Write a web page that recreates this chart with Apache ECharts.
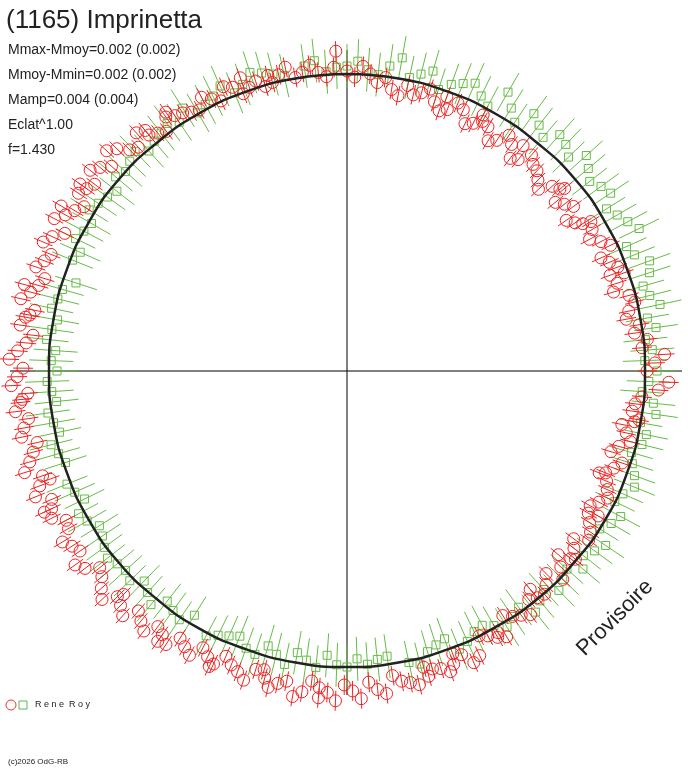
<!DOCTYPE html>
<html>
<head>
<meta charset="utf-8">
<script src="https://cdn.jsdelivr.net/npm/echarts@6/dist/echarts.min.js"></script>
<style>html,body{margin:0;padding:0;background:#fff}#main{width:688px;height:768px}</style>
</head>
<body>
<div id="main"></div>
<script>
var myChart = echarts.init(document.getElementById('main'));

// [angle (deg, clockwise from top), radius (px)]
var rouge = [
    [0,300],[3,305],[6,290],[9,285],[12,292],[15,288],[18,283],[21,280],[24,286],[27,278],[30,282],[33,275],
    [36,280],[39,272],[42,278],[45,270],[48,276],[51,268],[54,280],[57,272],[60,283],[63,285],[66,278],[69,290],
    [72,284],[75,292],[78,288],[81,296],[84,302],[87,318],[90,300],[92,322],[95,296],[98,288],[101,280],[104,292],
    [107,276],[110,284],[113,282],[116,290],[119,278],[122,286],[125,295],[128,288],[131,280],[134,300],[137,292],
    [140,285],[143,305],[146,296],[149,310],[152,300],[155,314],[158,306],[161,318],[164,310],[167,322],[170,315],
    [173,325],[176,312],[179,320],[182,330],[185,318],[188,324],[191,316],[194,326],[197,312],[200,320],[203,310],
    [206,318],[209,325],[212,315],[215,322],[218,330],[221,318],[224,326],[227,335],[230,320],[233,328],[236,322],
    [239,332],[242,318],[245,326],[248,336],[251,322],[254,330],[257,318],[260,328],[263,334],[266,320],[269,330],
    [272,338],[275,322],[278,330],[281,318],[284,326],[287,316],[290,322],[293,330],[296,314],[299,322],[302,310],
    [305,318],[308,326],[311,312],[314,320],[317,306],[320,314],[323,300],[326,308],[329,302],[332,310],[335,298],
    [338,306],[341,300],[344,296],[347,304],[350,298],[353,308],[356,295],[358,320],
    [20,292],[38,286],[58,278],[100,292],[112,272],[130,292],[150,302],[165,316],[185,328],[205,326],[225,316],
    [245,334],[265,326],[285,334],[305,326],[325,316],[345,306],[120,290],[140,296],[160,312],[195,318],[215,330],
    [250,316],[280,322],[300,330],[320,308],[340,312],[70,280],[50,284],[28,290],
    [1.5,294],[4.5,298],[7.5,296],[10.5,280],[13.5,284],[16.5,294],[19.5,276],[22.5,290],[25.5,274],[28.5,284],
    [31.5,270],[34.5,286],[37.5,268],[40.5,284],[43.5,276],[46.5,264],[49.5,280],[52.5,274],[55.5,266],[58.5,286],
    [61.5,276],[64.5,292],[67.5,284],[70.5,294],[73.5,278],[76.5,296],[79.5,284],[82.5,290],[85.5,296],[88.5,308],
    [93.5,312],[96.5,290],[99.5,296],[102.5,286],[105.5,282],[108.5,290],[111.5,278],[114.5,286],[117.5,284],
    [120.5,280],[123.5,292],[126.5,282],[129.5,296],[132.5,290],[135.5,284],[138.5,298],[141.5,292],[144.5,300],
    [147.5,290],[150.5,306],[153.5,296],[156.5,318],[159.5,302],[162.5,312],[165.5,306],[168.5,318],[171.5,308],
    [174.5,320],[177.5,328],[180.5,314],[183.5,322],[186.5,312],[189.5,330],[192.5,320],[195.5,310],[198.5,326],
    [201.5,316],[204.5,322],[207.5,312],[210.5,320],[213.5,328],[216.5,318],[219.5,324],[222.5,332],[225.5,322],
    [228.5,328],[231.5,316],[234.5,334],[237.5,326],[240.5,320],[243.5,330],[246.5,322],[249.5,328],[252.5,338],
    [255.5,324],[258.5,332],[261.5,322],[264.5,328],[267.5,336],[270.5,324],[273.5,330],[276.5,316],[279.5,326],
    [282.5,334],[285.5,320],[288.5,328],[291.5,318],[294.5,324],[297.5,330],[300.5,316],[303.5,322],[306.5,314],
    [309.5,320],[312.5,326],[315.5,310],[318.5,318],[321.5,304],[324.5,312],[327.5,306],[330.5,300],[333.5,304],
    [336.5,310],[339.5,296],[342.5,304],[345.5,298],[348.5,310],[351.5,302],[354.5,300],[357.5,304]
];
var vert = [
    [0,305],[4,302],[8,308],[12,300],[16,312],[20,305],[24,315],[28,300],[32,310],[36,318],[40,305],[44,315],
    [48,322],[52,308],[56,318],[60,312],[64,325],[68,310],[72,318],[76,312],[80,305],[84,300],[88,298],[92,302],
    [96,308],[100,298],[104,304],[108,300],[112,310],[116,298],[120,305],[124,312],[128,300],[132,296],[136,305],
    [140,300],[144,292],[148,302],[152,288],[156,296],[160,285],[164,292],[168,298],[172,288],[176,294],[180,296],
    [184,285],[188,292],[192,300],[196,286],[200,295],[204,290],[208,300],[212,288],[216,296],[220,305],[224,292],
    [228,298],[232,304],[236,295],[240,300],[244,292],[248,302],[252,296],[256,305],[260,298],[264,292],[268,300],
    [272,296],[276,302],[280,294],[284,298],[288,285],[292,296],[296,302],[300,295],[304,300],[308,292],[312,298],
    [316,305],[320,300],[324,306],[328,310],[332,302],[336,312],[340,305],[344,310],[348,302],[352,308],[356,300],
    [10,318],[30,322],[50,315],[70,322],[90,310],[110,306],[130,308],[150,294],[190,286],[230,300],[270,290],[310,302],[330,298],
    [2,310],[6,298],[14,306],[18,296],[22,310],[26,306],[34,300],[38,312],[42,318],[46,308],[54,314],[58,306],
    [62,318],[66,306],[74,308],[78,320],[82,312],[86,306],[94,296],[98,312],[102,306],[106,296],[114,302],[118,310],
    [122,298],[126,306],[134,300],[138,294],[142,306],[146,296],[154,290],[158,300],[162,288],[166,302],[174,290],
    [178,288],[182,294],[186,298],[194,292],[198,298],[202,286],[206,294],[214,300],[218,292],[222,298],[226,302],
    [234,300],[238,292],[242,304],[246,298],[254,300],[258,294],[262,302],[266,296],[274,292],[278,298],[282,302],
    [286,296],[294,292],[298,298],[302,304],[306,296],[314,302],[318,296],[322,302],[326,300],[334,306],[338,300],
    [342,314],[346,306],[354,312],[358,304]
];
// courbe moyenne
var courbe = [
    [0,297],[10,297],[20,297],[30,297],[40,297],[50,298],[60,298],[70,298],[80,298],[90,298],[100,298],[110,298],
    [120,298],[130,297],[140,297],[150,296],[160,296],[170,296],[180,296],[190,296],[200,296],[210,297],[220,297],
    [230,298],[240,298],[250,298],[260,298],[270,298],[280,298],[290,298],[300,298],[310,298],[320,297],[330,297],
    [340,297],[350,297],[360,297]
];

function mkSerie(data, couleur, err, forme) {
    return {
        type: 'custom',
        coordinateSystem: 'polar',
        data: data.map(function (d) { return [d[1], d[0]]; }),
        renderItem: function (params, api) {
            var r = api.value(0), a = api.value(1);
            var p = api.coord([r, a]);
            var p1 = api.coord([r - err, a]);
            var p2 = api.coord([r + err, a]);
            var shape = forme === 'c'
                ? { type: 'circle', shape: { cx: p[0], cy: p[1], r: 6 }, style: { fill: 'none', stroke: couleur, lineWidth: 1 } }
                : { type: 'rect', shape: { x: p[0] - 4, y: p[1] - 4, width: 8, height: 8 }, style: { fill: 'none', stroke: couleur, lineWidth: 1 } };
            return {
                type: 'group',
                children: [
                    { type: 'line', shape: { x1: p1[0], y1: p1[1], x2: p2[0], y2: p2[1] }, style: { stroke: couleur, lineWidth: 1 } },
                    shape
                ]
            };
        },
        silent: true,
        animation: false
    };
}

var option = {
    animation: false,
    polar: { center: [347, 371], radius: 340 },
    angleAxis: { type: 'value', min: 0, max: 360, startAngle: 90, clockwise: true, show: false },
    radiusAxis: { type: 'value', min: 0, max: 340, show: false },
    graphic: [
        { type: 'line', shape: { x1: 10, y1: 371, x2: 682, y2: 371 }, style: { stroke: '#000', lineWidth: 1 }, z: 0 },
        { type: 'line', shape: { x1: 347, y1: 50, x2: 347, y2: 695 }, style: { stroke: '#000', lineWidth: 1 }, z: 0 },
        { type: 'text', left: 6, top: 8, style: { text: '(1165) Imprinetta', font: '26px Arial, Liberation Sans', fill: '#222' } },
        { type: 'text', left: 8, top: 43, style: { text: 'Mmax-Mmoy=0.002 (0.002)', font: '14px Arial, Liberation Sans', fill: '#222' } },
        { type: 'text', left: 8, top: 68, style: { text: 'Mmoy-Mmin=0.002 (0.002)', font: '14px Arial, Liberation Sans', fill: '#222' } },
        { type: 'text', left: 8, top: 93, style: { text: 'Mamp=0.004 (0.004)', font: '14px Arial, Liberation Sans', fill: '#222' } },
        { type: 'text', left: 8, top: 118, style: { text: 'Eclat^1.00', font: '14px Arial, Liberation Sans', fill: '#222' } },
        { type: 'text', left: 8, top: 143, style: { text: 'f=1.430', font: '14px Arial, Liberation Sans', fill: '#222' } },
        { type: 'text', x: 615, y: 618, rotation: Math.PI / 4, style: { text: 'Provisoire', font: '22px Arial, Liberation Sans', fill: '#222', align: 'center', verticalAlign: 'middle' } },
        { type: 'circle', shape: { cx: 11, cy: 705, r: 5 }, style: { fill: 'none', stroke: '#e33', lineWidth: 1 } },
        { type: 'rect', shape: { x: 19, y: 701, width: 8, height: 8 }, style: { fill: 'none', stroke: '#5b5', lineWidth: 1 } },
        { type: 'text', left: 35, top: 700, style: { text: 'R e n e  R o y', font: '9px Arial, Liberation Sans', fill: '#222' } },
        { type: 'text', left: 8, top: 758, style: { text: '(c)2026 OdG-RB', font: '8px Arial, Liberation Sans', fill: '#222' } }
    ],
    series: [
        mkSerie(vert, '#66bb44', 22, 's'),
        mkSerie(rouge, '#ee2222', 10, 'c'),
        {
            type: 'line',
            coordinateSystem: 'polar',
            data: courbe.map(function (d) { return [d[1], d[0]]; }),
            smooth: true,
            symbol: 'none',
            lineStyle: { color: '#222', width: 2.5 },
            silent: true,
            z: 5
        }
    ]
};
myChart.setOption(option);
</script>
</body>
</html>
